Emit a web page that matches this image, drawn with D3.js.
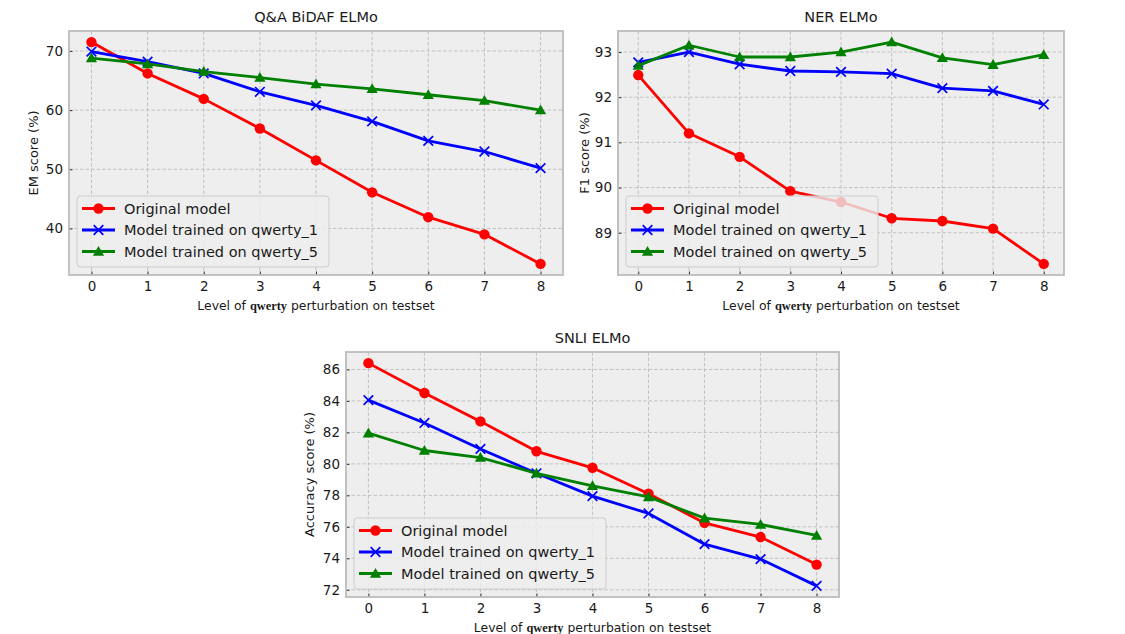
<!DOCTYPE html>
<html>
<head>
<meta charset="utf-8">
<script src="https://cdn.jsdelivr.net/npm/d3@7"></script>
<style>
  body { margin: 0; background: #fff; }
  svg text { font-family: "DejaVu Sans", sans-serif; fill: #1a1a1a; }
</style>
</head>
<body>
<svg id="chart" width="1125" height="634"></svg>
<script>
"use strict";

// ==========  Data  ==========
var levels      = [0, 1, 2, 3, 4, 5, 6, 7, 8]
var seriesNames = ['Original model', 'Model trained on qwerty_1', 'Model trained on qwerty_5']

var qaOriginal = [71.5, 66.2, 61.9, 56.9, 51.5, 46.1, 41.9, 39.0, 34.0]
var qaQwerty1  = [69.9, 68.2, 66.2, 63.1, 60.8, 58.1, 54.8, 53.0, 50.2]
var qaQwerty5  = [68.8, 67.8, 66.5, 65.5, 64.4, 63.6, 62.6, 61.6, 60.0]
var qaTicks    = [40, 50, 60, 70]

var nerOriginal = [92.49, 91.20, 90.68, 89.92, 89.68, 89.32, 89.26, 89.09, 88.31]
var nerQwerty1  = [92.77, 93.00, 92.73, 92.58, 92.56, 92.52, 92.20, 92.14, 91.84]
var nerQwerty5  = [92.70, 93.15, 92.89, 92.89, 93.00, 93.22, 92.87, 92.72, 92.94]
var nerTicks    = [89, 90, 91, 92, 93]

var snliOriginal = [86.4, 84.5, 82.7, 80.8, 79.75, 78.1, 76.25, 75.35, 73.6]
var snliQwerty1  = [84.05, 82.6, 80.95, 79.4, 77.95, 76.85, 74.9, 73.95, 72.25]
var snliQwerty5  = [81.95, 80.85, 80.4, 79.4, 78.6, 77.9, 76.55, 76.15, 75.45]
var snliTicks    = [72, 74, 76, 78, 80, 82, 84, 86]

// ==========  Styles  ==========
var seriesColors  = ['#ff0000', '#0000ff', '#008000']
var seriesMarkers = ['circle', 'x', 'triangle']

// marker drawn centred on (0,0), translated later
var addMarker = function(g, kind, color) {
  if(kind == 'circle') {
    g.append('circle').attr('r', 5.2).attr('fill', color)
  } else if(kind == 'x') {
    var h = 4.8
    g.append('path')
     .attr('d', 'M' + (-h) + ',' + (-h) + 'L' + h + ',' + h + 'M' + (-h) + ',' + h + 'L' + h + ',' + (-h))
     .attr('stroke', color).attr('stroke-width', 1.7).attr('fill', 'none')
  } else {
    var s = 5.6
    g.append('path')
     .attr('d', 'M0,' + (-s) + 'L' + s + ',' + (s * 0.75) + 'L' + (-s) + ',' + (s * 0.75) + 'Z')
     .attr('fill', color)
  }
}

// ==========  Panel  ==========
var drawPanel = function(svg, opts) {
  var box = opts.box
  var g = svg.append('g')

  var x = d3.scaleLinear().domain([-0.4, 8.4]).range([box.left, box.right])
  var all = d3.merge(opts.series)
  var lo = d3.min(all), hi = d3.max(all), pad = (hi - lo) * 0.05
  var y = d3.scaleLinear().domain([lo - pad, hi + pad]).range([box.bottom, box.top])

  // background
  g.append('rect')
   .attr('x', box.left).attr('y', box.top)
   .attr('width', box.right - box.left).attr('height', box.bottom - box.top)
   .attr('fill', '#eeeeee')

  // grid
  var grid = g.append('g').attr('stroke', '#bdbdbd').attr('stroke-width', 0.9).attr('stroke-dasharray', '3.5,2')
  grid.selectAll('.gx').data(levels).enter().append('line')
      .attr('x1', function(d) { return x(d) }).attr('x2', function(d) { return x(d) })
      .attr('y1', box.top).attr('y2', box.bottom)
  grid.selectAll('.gy').data(opts.yTicks).enter().append('line')
      .attr('y1', function(d) { return y(d) }).attr('y2', function(d) { return y(d) })
      .attr('x1', box.left).attr('x2', box.right)

  // axes, ticks pointing inward
  var xAxis = g.append('g').attr('transform', 'translate(0,' + box.bottom + ')')
               .call(d3.axisBottom(x).tickValues(levels).tickFormat(d3.format('d')).tickSize(-3.5).tickPadding(6))
  var yAxis = g.append('g').attr('transform', 'translate(' + box.left + ',0)')
               .call(d3.axisLeft(y).tickValues(opts.yTicks).tickFormat(d3.format('d')).tickSize(-3.5).tickPadding(6))
  ;[xAxis, yAxis].forEach(function(a) {
    a.select('.domain').remove()
    a.selectAll('line').attr('stroke', '#333').attr('stroke-width', 1)
    a.selectAll('text').attr('font-size', '13.5px').attr('fill', '#1a1a1a')
      .attr('font-family', '"DejaVu Sans", sans-serif')
  })

  // frame
  g.append('rect')
   .attr('x', box.left).attr('y', box.top)
   .attr('width', box.right - box.left).attr('height', box.bottom - box.top)
   .attr('fill', 'none').attr('stroke', '#bcbcbc').attr('stroke-width', 1.8)

  // series
  var line = d3.line().x(function(d, i) { return x(levels[i]) }).y(function(d) { return y(d) })
  opts.series.forEach(function(values, k) {
    var color = seriesColors[k]
    g.append('path').datum(values)
     .attr('d', line).attr('fill', 'none')
     .attr('stroke', color).attr('stroke-width', 2.8).attr('stroke-linejoin', 'round')
    values.forEach(function(v, i) {
      var m = g.append('g').attr('transform', 'translate(' + x(levels[i]) + ',' + y(v) + ')')
      addMarker(m, seriesMarkers[k], color)
    })
  })

  // legend
  var lg = g.append('g').attr('transform', 'translate(' + (box.left + 8) + ',' + (box.bottom - 79) + ')')
  lg.append('rect').attr('width', 252).attr('height', 71).attr('rx', 3.5)
    .attr('fill', '#eeeeee').attr('fill-opacity', 0.8)
    .attr('stroke', '#cccccc').attr('stroke-width', 1)
  seriesNames.forEach(function(name, k) {
    var row = lg.append('g').attr('transform', 'translate(0,' + (12.5 + k * 21.5) + ')')
    row.append('line').attr('x1', 5).attr('x2', 38).attr('stroke', seriesColors[k]).attr('stroke-width', 2.8)
    addMarker(row.append('g').attr('transform', 'translate(21.5,0)'), seriesMarkers[k], seriesColors[k])
    row.append('text').attr('x', 47).attr('dy', '0.36em').attr('font-size', '14.5px').text(name)
  })

  var cx = (box.left + box.right) / 2
  // title
  g.append('text').attr('x', cx).attr('y', box.top - 9).attr('text-anchor', 'middle')
   .attr('font-size', '14.5px').text(opts.title)

  // y label
  g.append('text')
   .attr('transform', 'translate(' + opts.yLabelX + ',' + ((box.top + box.bottom) / 2) + ') rotate(-90)')
   .attr('text-anchor', 'middle').attr('dy', '0.36em').attr('font-size', '13px').text(opts.yLabel)

  // x label with math-style qwerty
  var xl = g.append('text').attr('x', cx).attr('y', box.bottom + 35)
            .attr('text-anchor', 'middle').attr('font-size', '12.4px')
  xl.append('tspan').text('Level of ')
  xl.append('tspan').attr('font-family', '"Liberation Serif", serif').attr('font-weight', 'bold')
    .attr('font-size', '12.4px').text('qwerty')
  xl.append('tspan').text(' perturbation on testset')
}

// ==========  Script  ==========
var svg = d3.select('#chart')

drawPanel(svg, {
  box: {left: 69, right: 563, top: 31, bottom: 275},
  series: [qaOriginal, qaQwerty1, qaQwerty5],
  yTicks: qaTicks,
  title: 'Q&A BiDAF ELMo',
  yLabel: 'EM score (%)',
  yLabelX: 33
})

drawPanel(svg, {
  box: {left: 618, right: 1064, top: 31, bottom: 275},
  series: [nerOriginal, nerQwerty1, nerQwerty5],
  yTicks: nerTicks,
  title: 'NER ELMo',
  yLabel: 'F1 score (%)',
  yLabelX: 584
})

drawPanel(svg, {
  box: {left: 346, right: 839, top: 352, bottom: 597},
  series: [snliOriginal, snliQwerty1, snliQwerty5],
  yTicks: snliTicks,
  title: 'SNLI ELMo',
  yLabel: 'Accuracy score (%)',
  yLabelX: 309.5
})
</script>
</body>
</html>
